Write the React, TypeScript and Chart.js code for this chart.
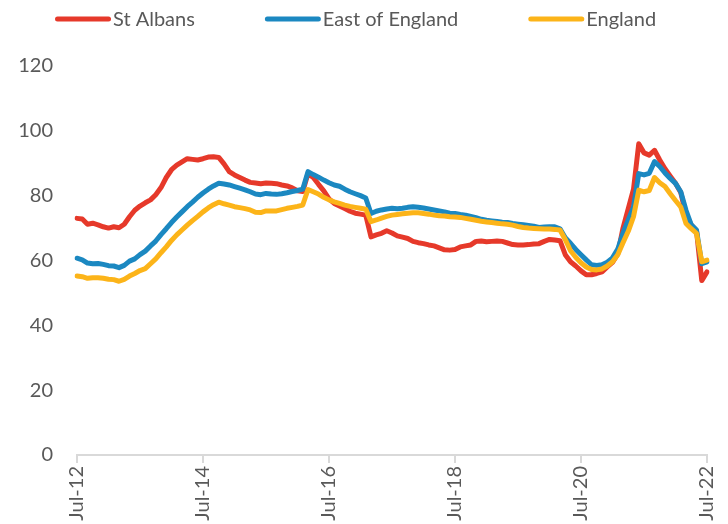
import { useEffect, useRef } from 'react';
import { Chart, registerables } from 'chart.js';

Chart.register(...registerables);

const MONTHS = ['Jan', 'Feb', 'Mar', 'Apr', 'May', 'Jun', 'Jul', 'Aug', 'Sep', 'Oct', 'Nov', 'Dec'];
const START_YEAR = 2012;
const START_MONTH = 6; // Jul
const MONTH_COUNT = 121;

const categories: string[] = [];
for (let i = 0; i < MONTH_COUNT; i++) {
  const m = (START_MONTH + i) % 12;
  const y = START_YEAR + Math.floor((START_MONTH + i) / 12);
  categories.push(`${MONTHS[m]}-${String(y).slice(2)}`);
}

const stAlbans = [
  73.0, 72.8, 71.2, 71.5, 71.0, 70.4, 70.0, 70.4, 70.1, 71.2,
  73.5, 75.5, 76.8, 77.8, 78.7, 80.3, 82.5, 85.6, 88.0, 89.4,
  90.4, 91.4, 91.2, 91.0, 91.4, 91.9, 92.0, 91.8, 89.8, 87.4,
  86.4, 85.6, 84.8, 84.1, 83.9, 83.7, 83.9, 83.8, 83.7, 83.3,
  83.0, 82.4, 81.5, 81.3, 86.8, 85.6, 83.5, 81.5, 79.0, 77.6,
  76.8, 76.0, 75.2, 74.6, 74.3, 74.0, 67.3, 67.9, 68.4, 69.2,
  68.5, 67.6, 67.2, 66.8, 65.9, 65.5, 65.2, 64.8, 64.5, 63.9,
  63.3, 63.2, 63.4, 64.2, 64.5, 64.8, 65.9, 66.0, 65.8, 65.9,
  66.0, 65.9, 65.4, 64.9, 64.8, 64.8, 64.9, 65.1, 65.2, 65.9,
  66.5, 66.3, 66.1, 61.8, 59.6, 58.3, 56.8, 55.6, 55.6, 56.0,
  56.5, 58.0, 59.4, 62.0, 70.0, 76.0, 82.0, 96.0, 93.2, 92.5,
  94.0, 91.0, 88.3, 86.0, 83.8, 81.0, 74.0, 71.0, 69.2, 53.8,
  56.5,
];

const eastOfEngland = [
  60.7, 60.2, 59.2, 59.0, 59.1, 58.8, 58.4, 58.3, 57.8, 58.5,
  59.8, 60.5, 61.8, 62.9, 64.5, 66.0, 68.0, 69.8, 71.7, 73.4,
  75.0, 76.6, 78.0, 79.5, 80.8, 82.0, 83.0, 83.8, 83.6, 83.3,
  82.8, 82.3, 81.8, 81.2, 80.5, 80.3, 80.7, 80.5, 80.4, 80.6,
  80.9, 81.3, 81.6, 82.0, 87.4, 86.5, 85.7, 84.8, 84.0, 83.3,
  82.9, 82.0, 81.2, 80.6, 80.0, 79.3, 74.5, 75.2, 75.6, 75.9,
  76.1, 76.0, 76.1, 76.4, 76.6, 76.4, 76.2, 75.9, 75.6, 75.3,
  75.0, 74.6, 74.5, 74.2, 74.0, 73.6, 73.2, 72.7, 72.4, 72.2,
  72.0, 71.8, 71.7, 71.4, 71.2, 71.0, 70.8, 70.6, 70.2, 70.3,
  70.4, 70.4, 69.8, 67.0, 65.3, 63.4, 61.8, 60.2, 58.7, 58.5,
  58.7, 59.5, 60.8, 63.5, 68.5, 72.5, 76.5, 86.8, 86.4, 86.9,
  90.5, 89.0, 87.0, 85.3, 83.8, 81.2, 75.5, 71.0, 69.4, 59.0,
  59.6,
];

const england = [
  55.2, 55.0, 54.5, 54.7, 54.7, 54.5, 54.2, 54.1, 53.6, 54.2,
  55.2, 56.0, 56.9, 57.5, 59.0, 60.5, 62.4, 64.2, 66.2, 67.9,
  69.4, 70.9, 72.3, 73.6, 75.0, 76.2, 77.2, 78.0, 77.5, 77.1,
  76.6, 76.3, 76.0, 75.6, 74.9, 74.8, 75.3, 75.3, 75.3, 75.7,
  76.1, 76.4, 76.7, 77.1, 81.9, 81.2, 80.5, 79.5, 78.7, 78.1,
  77.6, 77.1, 76.7, 76.4, 76.1, 75.8, 72.0, 72.5, 73.1, 73.6,
  74.0, 74.2, 74.4, 74.6, 74.7, 74.7, 74.5, 74.3, 74.0, 73.8,
  73.7, 73.5, 73.4, 73.3, 73.0, 72.7, 72.4, 72.1, 71.9, 71.7,
  71.5, 71.3, 71.2, 70.9, 70.5, 70.2, 70.0, 69.9, 69.8, 69.7,
  69.7, 69.6, 69.4, 66.5, 63.0, 61.0, 59.3, 58.0, 57.2, 57.1,
  57.4, 58.3, 59.6, 61.8, 65.5, 69.0, 73.5, 81.7, 81.2, 81.6,
  85.6, 84.0, 82.8, 80.6, 78.5, 76.5, 71.4, 69.8, 68.4, 59.6,
  60.1,
];

const seriesNames = ['St Albans', 'East of England', 'England'];
const seriesColors = ['#E6392A', '#1B88C1', '#FCB419'];
const Y_MIN = 0;
const Y_MAX = 120;
const Y_STEP = 20;
const LABEL_EVERY = 24;

const TEXT_COLOR = '#595959';
const FONT = 'Lato';

const legendPlugin = {
  id: 'lineLegend',
  afterDraw(chart: any) {
    const ctx = chart.ctx as CanvasRenderingContext2D;
    ctx.save();
    ctx.font = `20px ${FONT}`;
    ctx.textBaseline = 'middle';
    ctx.textAlign = 'left';
    let x = 47;
    const y = 11;
    const sample = 56;
    chart.data.datasets.forEach((ds: any) => {
      ctx.strokeStyle = ds.borderColor;
      ctx.lineWidth = 5;
      ctx.lineCap = 'round';
      ctx.beginPath();
      ctx.moveTo(x + 2.5, y);
      ctx.lineTo(x + sample - 2.5, y);
      ctx.stroke();
      ctx.fillStyle = TEXT_COLOR;
      ctx.fillText(ds.label, x + sample + 2, y + 1);
      x += sample + 2 + ctx.measureText(ds.label).width + 70;
    });
    ctx.restore();
  },
};

export default function App() {
  const canvasRef = useRef<HTMLCanvasElement | null>(null);

  useEffect(() => {
    document.documentElement.style.overflow = 'hidden';
    const canvas = canvasRef.current;
    if (!canvas) return;
    const values = [stAlbans, eastOfEngland, england];
    const chart = new Chart(canvas, {
      type: 'line',
      data: {
        labels: categories,
        datasets: values.map((v, k) => ({
          label: seriesNames[k],
          data: v,
          borderColor: seriesColors[k],
          backgroundColor: seriesColors[k],
          borderWidth: 5,
          pointRadius: 0,
          pointHoverRadius: 0,
          tension: 0,
          borderJoinStyle: 'round' as const,
          borderCapStyle: 'round' as const,
          fill: false,
          order: 3 - k,
        })),
      },
      options: {
        responsive: false,
        animation: false,
        maintainAspectRatio: false,
        layout: { padding: { top: 58, right: 13, left: 0, bottom: 0 } },
        plugins: {
          legend: { display: false },
          tooltip: { enabled: false },
        },
        scales: {
          x: {
            type: 'category',
            offset: false,
            afterFit: (scale: any) => {
              scale.height = 69;
              scale.paddingLeft = 0;
              scale.paddingRight = 0;
            },
            border: { display: true, color: '#D9D9D9', width: 2 },
            grid: {
              drawOnChartArea: false,
              drawTicks: true,
              tickLength: 8,
              color: (c: any) => (c.index % LABEL_EVERY === 0 ? '#D9D9D9' : 'rgba(0,0,0,0)'),
              lineWidth: 2,
            },
            ticks: {
              autoSkip: false,
              maxRotation: 90,
              minRotation: 90,
              padding: 3,
              color: TEXT_COLOR,
              font: { family: FONT, size: 20 },
              callback: (_v: any, i: number) => (i % LABEL_EVERY === 0 ? categories[i] : ''),
            },
          },
          y: {
            min: Y_MIN,
            max: Y_MAX,
            afterFit: (scale: any) => {
              scale.width = 69;
              scale.paddingTop = 0;
              scale.paddingBottom = 0;
            },
            border: { display: false },
            grid: { display: false, drawTicks: false },
            ticks: {
              stepSize: Y_STEP,
              padding: 24,
              color: TEXT_COLOR,
              font: { family: FONT, size: 20 },
            },
          },
        },
      },
      plugins: [legendPlugin],
    });
    return () => chart.destroy();
  }, []);

  return (
    <canvas
      ref={canvasRef}
      width={712}
      height={516}
      style={{ display: 'block', width: 712, height: 516 }}
    />
  );
}
